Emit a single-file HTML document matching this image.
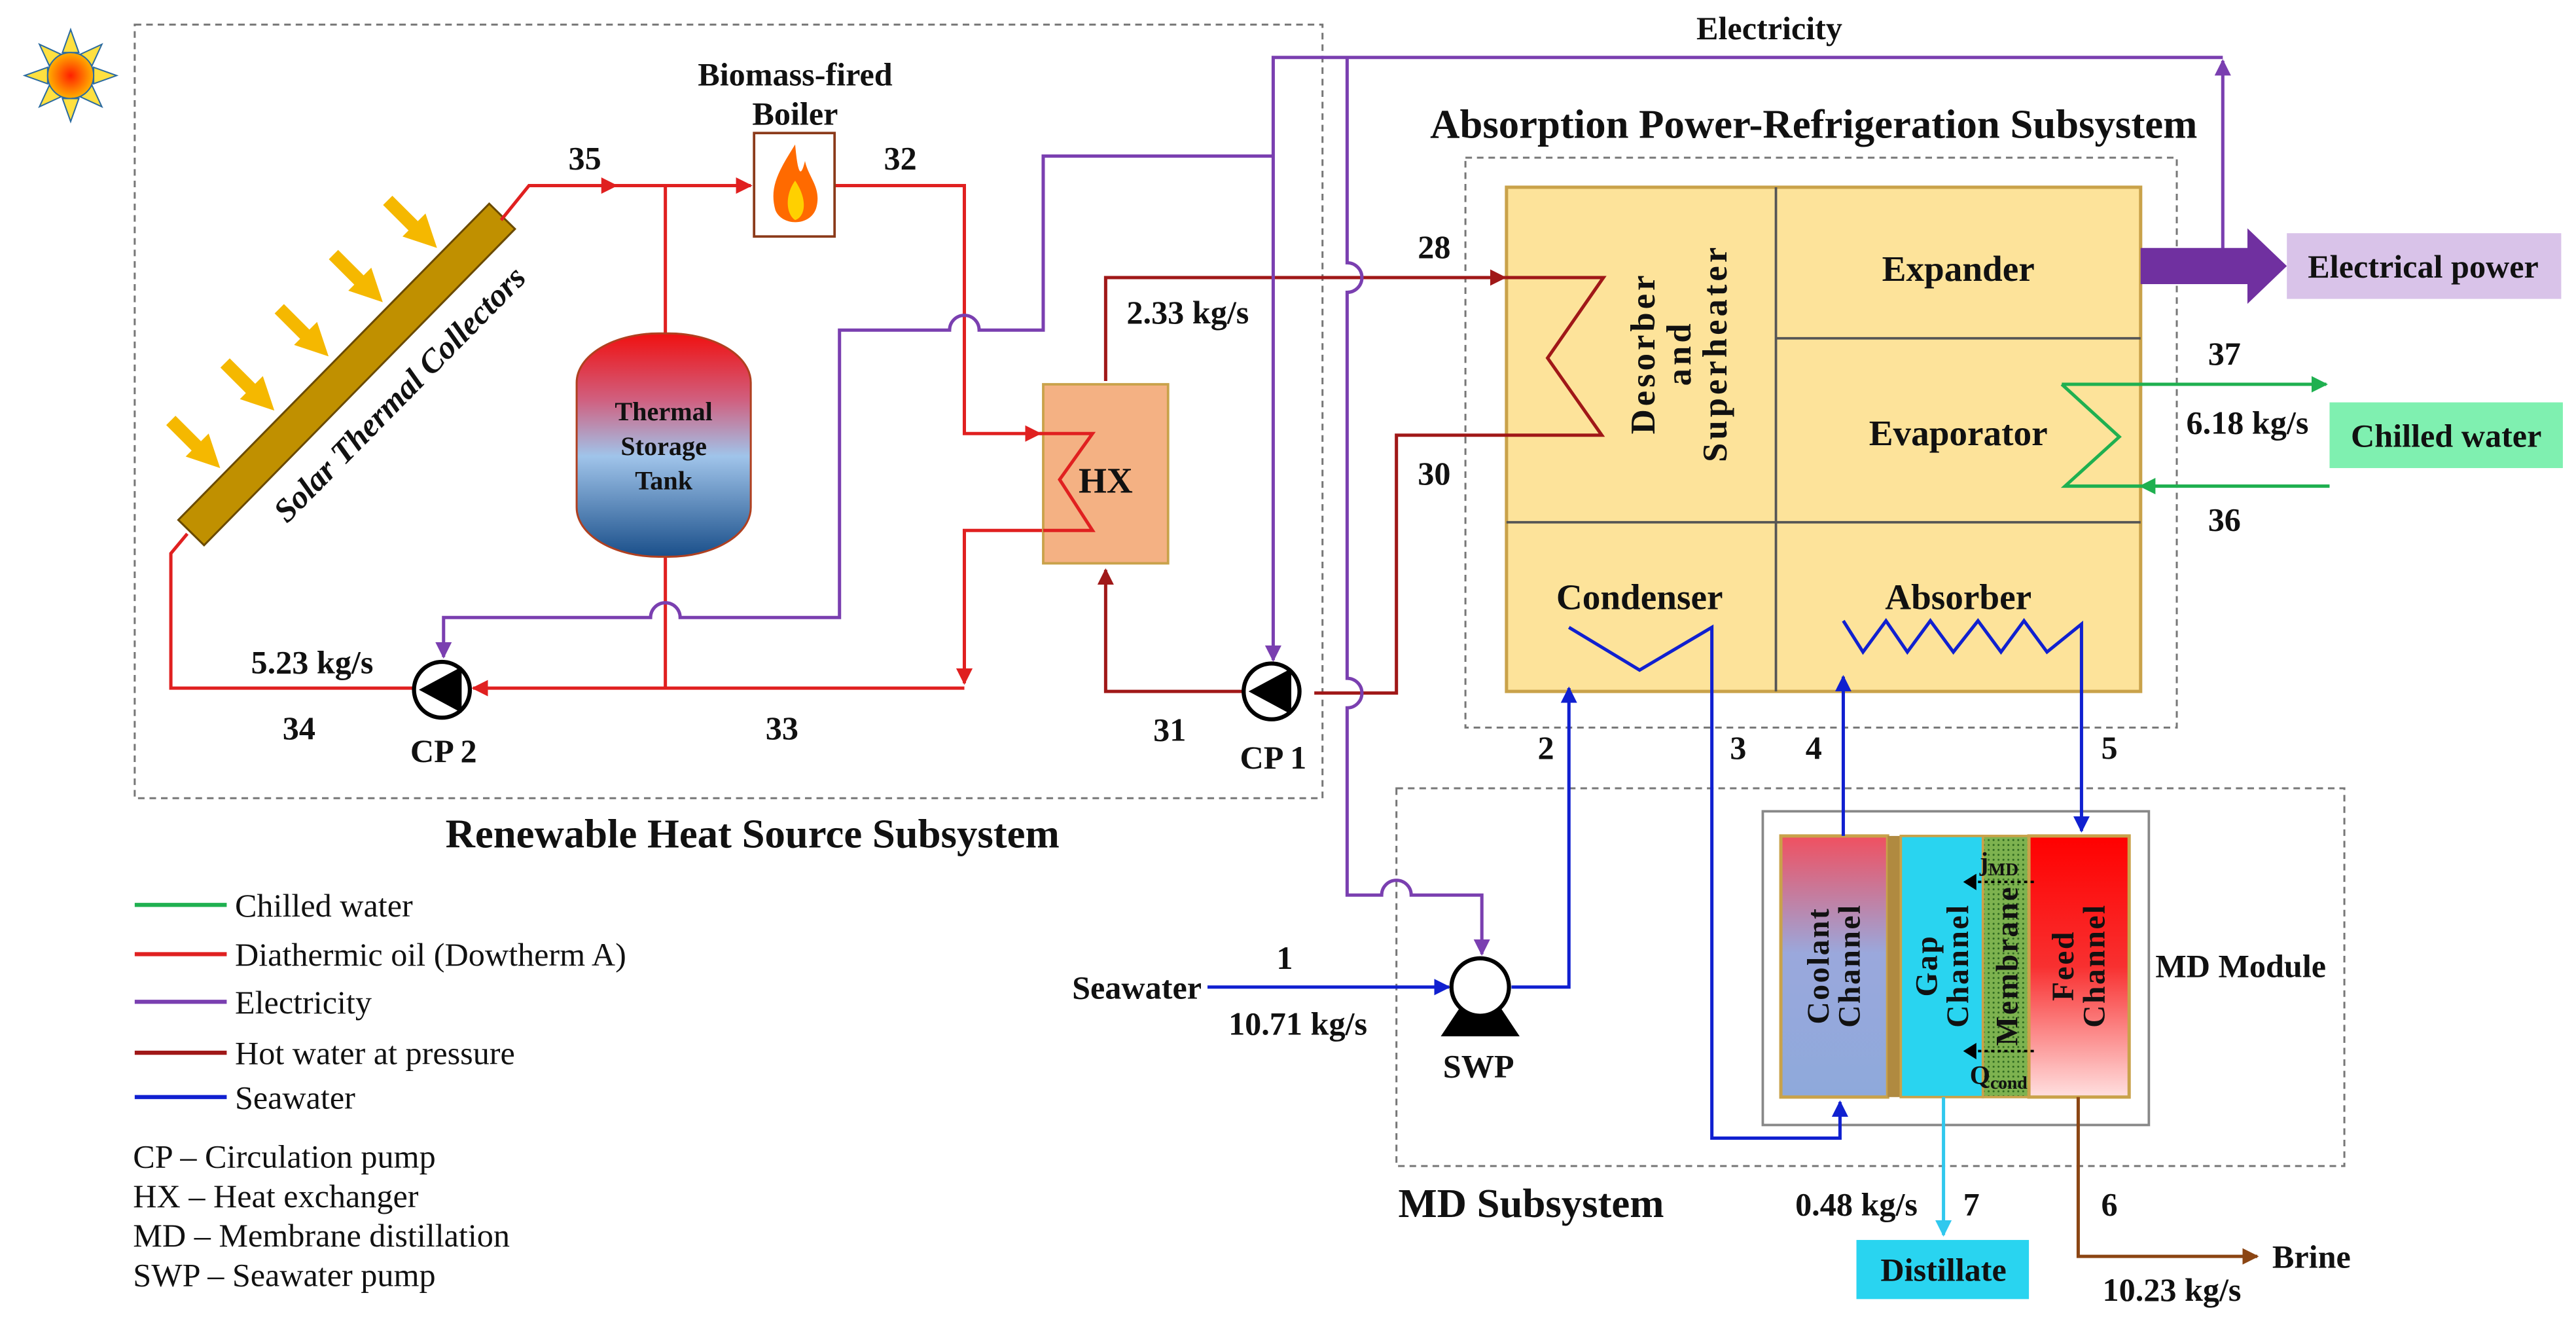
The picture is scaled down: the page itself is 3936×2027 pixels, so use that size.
<!DOCTYPE html>
<html><head><meta charset="utf-8"><style>
html,body{margin:0;padding:0;background:#fff;}
svg{display:block;}
text{font-family:"Liberation Serif",serif;font-weight:bold;fill:#111;}
text.n{font-weight:normal;}
</style></head><body>
<svg width="3936" height="2027" viewBox="0 0 1568 808" preserveAspectRatio="none" xmlns="http://www.w3.org/2000/svg">
<defs>
<marker id="ar" viewBox="0 0 10 10" refX="9" refY="5" markerWidth="5" markerHeight="5" orient="auto"><path d="M0,0L10,5L0,10z" fill="#e02020"/></marker>
<marker id="ap" viewBox="0 0 10 10" refX="9" refY="5" markerWidth="5" markerHeight="5" orient="auto"><path d="M0,0L10,5L0,10z" fill="#7a3fb0"/></marker>
<marker id="ad" viewBox="0 0 10 10" refX="9" refY="5" markerWidth="5" markerHeight="5" orient="auto"><path d="M0,0L10,5L0,10z" fill="#a01818"/></marker>
<marker id="ab" viewBox="0 0 10 10" refX="9" refY="5" markerWidth="5" markerHeight="5" orient="auto"><path d="M0,0L10,5L0,10z" fill="#1020d0"/></marker>
<marker id="ag" viewBox="0 0 10 10" refX="9" refY="5" markerWidth="5" markerHeight="5" orient="auto"><path d="M0,0L10,5L0,10z" fill="#1fb050"/></marker>
<marker id="ac" viewBox="0 0 10 10" refX="9" refY="5" markerWidth="5" markerHeight="5" orient="auto"><path d="M0,0L10,5L0,10z" fill="#30c8ee"/></marker>
<marker id="an" viewBox="0 0 10 10" refX="9" refY="5" markerWidth="5" markerHeight="5" orient="auto"><path d="M0,0L10,5L0,10z" fill="#8b4513"/></marker>
<linearGradient id="tank" x1="0" y1="0" x2="0" y2="1"><stop offset="0" stop-color="#f01010"/><stop offset="0.3" stop-color="#d06080"/><stop offset="0.55" stop-color="#a0c4ea"/><stop offset="1" stop-color="#1a4f8a"/></linearGradient>
<linearGradient id="cool" x1="0" y1="0" x2="0" y2="1"><stop offset="0" stop-color="#f05060"/><stop offset="0.45" stop-color="#9aa8dc"/><stop offset="1" stop-color="#8ea9db"/></linearGradient>
<linearGradient id="feed" x1="0" y1="0" x2="0" y2="1"><stop offset="0" stop-color="#ff0000"/><stop offset="0.5" stop-color="#f83030"/><stop offset="1" stop-color="#ffe0e0"/></linearGradient>
<radialGradient id="sun"><stop offset="0" stop-color="#ff2000"/><stop offset="1" stop-color="#ffb000"/></radialGradient>
<pattern id="mem" width="3" height="3" patternUnits="userSpaceOnUse"><rect width="3" height="3" fill="#7db24f"/><circle cx="1.5" cy="1.5" r="0.6" fill="#2f6a20"/></pattern>
</defs>

<rect x="82" y="15" width="723" height="471" fill="none" stroke="#777" stroke-width="1.2" stroke-dasharray="4,3"/>
<rect x="892" y="96" width="433" height="347" fill="none" stroke="#777" stroke-width="1.2" stroke-dasharray="4,3"/>
<rect x="850" y="480" width="577" height="230" fill="none" stroke="#777" stroke-width="1.2" stroke-dasharray="4,3"/>

<g transform="translate(43,46)">
<g fill="#ffe040" stroke="#2a6aa0" stroke-width="0.8">
<path d="M-5,-14L0,-28L5,-14z"/><path d="M-5,14L0,28L5,14z"/><path d="M-14,-5L-28,0L-14,5z"/><path d="M14,-5L28,0L14,5z"/>
<path d="M6,-13L19,-19L13,-6z"/><path d="M-6,-13L-19,-19L-13,-6z"/><path d="M6,13L19,19L13,6z"/><path d="M-6,13L-19,19L-13,6z"/>
</g>
<circle r="14" fill="url(#sun)" stroke="#2a6aa0" stroke-width="0.8"/>
</g>

<g transform="translate(211,228) rotate(-45.5)">
<rect x="-135" y="-11" width="270" height="22" fill="#c09000" stroke="#6a4a00" stroke-width="1.2"/>
<text x="14" y="38" font-size="20" font-style="italic" text-anchor="middle">Solar Thermal Collectors</text>
</g>
<g stroke="#f5b800" stroke-width="8">
<line x1="104" y1="256" x2="122" y2="274"/><line x1="137" y1="221" x2="155" y2="239"/><line x1="170" y1="188" x2="188" y2="206"/><line x1="203" y1="155" x2="221" y2="173"/><line x1="236" y1="122" x2="254" y2="140"/>
</g>
<g fill="#f5b800">
<path d="M113,278L127,264L134,285z"/><path d="M146,243L160,229L167,250z"/><path d="M179,210L193,196L200,217z"/><path d="M212,177L226,163L233,184z"/><path d="M245,144L259,130L266,151z"/>
</g>

<g stroke="#e02020" stroke-width="2" fill="none">
<path d="M305,134L322,113H375" marker-end="url(#ar)"/>
<path d="M372,113H457" marker-end="url(#ar)"/>
<path d="M405,113V204"/>
<path d="M508,113H587V264H633" marker-end="url(#ar)"/>
<path d="M633,264H665L645,292L665,323H587V416" marker-end="url(#ar)"/>
<path d="M587,419H288" marker-end="url(#ar)"/>
<path d="M405,339V419"/>
<path d="M252,419H104V337L114,325"/>
</g>
<rect x="351" y="203" width="106" height="136" rx="50" ry="30" fill="url(#tank)" stroke="#b04020" stroke-width="1.2"/>
<text x="404" y="256" font-size="16" text-anchor="middle">Thermal</text>
<text x="404" y="277" font-size="16" text-anchor="middle">Storage</text>
<text x="404" y="298" font-size="16" text-anchor="middle">Tank</text>
<rect x="459" y="81" width="49" height="63" fill="#fff" stroke="#8b3a1a" stroke-width="1.5"/>
<path d="M484,88C474,104 468,114 472,128C476,138 494,138 497,126C500,114 492,108 490,98C488,106 486,110 484,88z" fill="#ff6a00"/>
<path d="M484,110C478,118 478,130 484,134C490,132 492,122 484,110z" fill="#ffd000"/>
<rect x="635" y="234" width="76" height="109" fill="#f4b183" stroke="#c9a24a" stroke-width="1.5"/>
<path d="M633,264H665L645,292L665,323H635" stroke="#e02020" stroke-width="2" fill="none"/>
<text x="673" y="300" font-size="22" text-anchor="middle">HX</text>

<rect x="917" y="114" width="386" height="307" fill="#fde39a" stroke="#c9a24a" stroke-width="2"/>
<g stroke="#555" stroke-width="1.5"><line x1="1081" y1="114" x2="1081" y2="421"/><line x1="1081" y1="206" x2="1303" y2="206"/><line x1="917" y1="318" x2="1303" y2="318"/></g>
<text x="1192" y="171" font-size="22" text-anchor="middle">Expander</text>
<text x="1192" y="271" font-size="22" text-anchor="middle">Evaporator</text>
<text x="998" y="371" font-size="22" text-anchor="middle">Condenser</text>
<text x="1192" y="371" font-size="22" text-anchor="middle">Absorber</text>
<g transform="translate(1022,215) rotate(-90)" font-size="21" letter-spacing="2"><text x="0" y="-15" text-anchor="middle">Desorber</text><text x="0" y="7" text-anchor="middle">and</text><text x="0" y="29" text-anchor="middle">Superheater</text></g>

<g stroke="#a01818" stroke-width="2" fill="none">
<path d="M673,232V169H916" marker-end="url(#ad)"/>
<path d="M916,169H976L942,218L975,265H850V422H800"/>
<path d="M757,421H673V347" marker-end="url(#ad)"/>
</g>

<g stroke="#7a3fb0" stroke-width="2" fill="none">
<path d="M1353,162V37" marker-end="url(#ap)"/>
<path d="M1353,35H775V402" marker-end="url(#ap)"/>
<path d="M775,95H635V201H596a9,9 0 0 0 -18,0H511V376H414a9,9 0 0 0 -18,0H270V400" marker-end="url(#ap)"/>
<path d="M820,35V160a9,9 0 0 1 0,18V413a9,9 0 0 1 0,18V545H841a9,9 0 0 1 18,0H902V581" marker-end="url(#ap)"/>
</g>
<path d="M1303,151H1368V139L1392,162L1368,185V173H1303z" fill="#7030a0"/>
<rect x="1392" y="142" width="167" height="40" fill="#d9c3e9"/>
<text x="1475" y="169" font-size="20" text-anchor="middle">Electrical power</text>

<circle cx="269" cy="420" r="17" fill="#fff" stroke="#000" stroke-width="2.5"/><path d="M255,420L281,406V434z" fill="#000"/>
<circle cx="774" cy="421" r="17" fill="#fff" stroke="#000" stroke-width="2.5"/><path d="M760,421L786,407V435z" fill="#000"/>

<g stroke="#1fb050" stroke-width="2" fill="none">
<path d="M1255,234H1416" marker-end="url(#ag)"/>
<path d="M1255,234L1290,266L1257,296H1305"/>
<path d="M1418,296H1303" marker-end="url(#ag)"/>
</g>
<rect x="1418" y="245" width="142" height="40" fill="#7ff0b0"/>
<text x="1489" y="272" font-size="20" text-anchor="middle">Chilled water</text>

<rect x="1073" y="494" width="235" height="191" fill="none" stroke="#888" stroke-width="1.5"/>
<rect x="1084" y="509" width="65" height="159" fill="url(#cool)" stroke="#c9a24a" stroke-width="2"/>
<rect x="1149" y="509" width="8" height="159" fill="#b08a40"/>
<rect x="1157" y="509" width="50" height="159" fill="#29d4f0" stroke="#c9a24a" stroke-width="1.5"/>
<rect x="1207" y="509" width="28" height="159" fill="url(#mem)" stroke="#c9a24a" stroke-width="1.5"/>
<rect x="1235" y="509" width="61" height="159" fill="url(#feed)" stroke="#c9a24a" stroke-width="2"/>
<g font-size="19" letter-spacing="1">
<g transform="translate(1116,588) rotate(-90)"><text y="-3" text-anchor="middle">Coolant</text><text y="16" text-anchor="middle">Channel</text></g>
<g transform="translate(1182,588) rotate(-90)"><text y="-3" text-anchor="middle">Gap</text><text y="16" text-anchor="middle">Channel</text></g>
<g transform="translate(1227,588) rotate(-90)"><text y="1" text-anchor="middle">Membrane</text></g>
<g transform="translate(1265,588) rotate(-90)"><text y="-3" text-anchor="middle">Feed</text><text y="16" text-anchor="middle">Channel</text></g>
</g>
<g stroke="#000" stroke-width="1.5" stroke-dasharray="2,2"><line x1="1200" y1="537" x2="1240" y2="537"/><line x1="1200" y1="640" x2="1240" y2="640"/></g>
<path d="M1195,537L1203,532V542z M1195,640L1203,635V645z" fill="#000"/>
<text x="1205" y="530" font-size="16">j<tspan font-size="11" dy="3">MD</tspan></text>
<text x="1199" y="660" font-size="16">Q<tspan font-size="11" dy="3">cond</tspan></text>
<text x="1312" y="595" font-size="20">MD Module</text>

<g stroke="#1020d0" stroke-width="2" fill="none">
<path d="M735,601H882" marker-end="url(#ab)"/>
<path d="M920,601H955V419" marker-end="url(#ab)"/>
<path d="M955,382L998,408L1042,382V693H1120V671" marker-end="url(#ab)"/>
<path d="M1122,509V412" marker-end="url(#ab)"/>
<path d="M1122,378L1134,397L1148,378L1161,397L1175,378L1189,397L1204,378L1218,397L1232,378L1246,397L1267,380V506" marker-end="url(#ab)"/>
</g>
<g transform="translate(901,601)"><path d="M-12,12L-24,30H24L12,12z" fill="#000"/><circle r="17.5" fill="#fff" stroke="#000" stroke-width="2.5"/></g>

<path d="M1183,668V752" stroke="#30c8ee" stroke-width="2" fill="none" marker-end="url(#ac)"/>
<rect x="1130" y="755" width="105" height="36" fill="#29d4f0"/>
<text x="1183" y="780" font-size="20" text-anchor="middle">Distillate</text>
<path d="M1265,668V765H1374" stroke="#8b4513" stroke-width="2" fill="none" marker-end="url(#an)"/>

<g font-size="20">
<text x="1077" y="24" text-anchor="middle">Electricity</text>
<text x="484" y="52" text-anchor="middle">Biomass-fired</text>
<text x="484" y="76" text-anchor="middle">Boiler</text>
<text x="356" y="103" text-anchor="middle">35</text>
<text x="548" y="103" text-anchor="middle">32</text>
<text x="873" y="157" text-anchor="middle">28</text>
<text x="873" y="295" text-anchor="middle">30</text>
<text x="723" y="197" text-anchor="middle">2.33 kg/s</text>
<text x="190" y="410" text-anchor="middle">5.23 kg/s</text>
<text x="182" y="450" text-anchor="middle">34</text>
<text x="476" y="450" text-anchor="middle">33</text>
<text x="712" y="451" text-anchor="middle">31</text>
<text x="270" y="464" text-anchor="middle">CP 2</text>
<text x="775" y="468" text-anchor="middle">CP 1</text>
<text x="1354" y="222" text-anchor="middle">37</text>
<text x="1368" y="264" text-anchor="middle">6.18 kg/s</text>
<text x="1354" y="323" text-anchor="middle">36</text>
<text x="941" y="462" text-anchor="middle">2</text>
<text x="1058" y="462" text-anchor="middle">3</text>
<text x="1104" y="462" text-anchor="middle">4</text>
<text x="1284" y="462" text-anchor="middle">5</text>
<text x="782" y="590" text-anchor="middle">1</text>
<text x="692" y="608" text-anchor="middle">Seawater</text>
<text x="790" y="630" text-anchor="middle">10.71 kg/s</text>
<text x="900" y="656" text-anchor="middle">SWP</text>
<text x="1130" y="740" text-anchor="middle">0.48 kg/s</text>
<text x="1200" y="740" text-anchor="middle">7</text>
<text x="1284" y="740" text-anchor="middle">6</text>
<text x="1407" y="772" text-anchor="middle">Brine</text>
<text x="1322" y="792" text-anchor="middle">10.23 kg/s</text>
</g>
<text x="458" y="516" font-size="25" text-anchor="middle">Renewable Heat Source Subsystem</text>
<text x="1104" y="84" font-size="25" text-anchor="middle">Absorption Power-Refrigeration Subsystem</text>
<text x="932" y="741" font-size="25" text-anchor="middle">MD Subsystem</text>

<g stroke-width="2.5">
<line x1="82" y1="551" x2="138" y2="551" stroke="#1fb050"/>
<line x1="82" y1="581" x2="138" y2="581" stroke="#e02020"/>
<line x1="82" y1="610" x2="138" y2="610" stroke="#7a3fb0"/>
<line x1="82" y1="641" x2="138" y2="641" stroke="#a01818"/>
<line x1="82" y1="668" x2="138" y2="668" stroke="#1020d0"/>
</g>
<g font-size="20">
<text class="n" x="143" y="558">Chilled water</text>
<text class="n" x="143" y="588">Diathermic oil (Dowtherm A)</text>
<text class="n" x="143" y="617">Electricity</text>
<text class="n" x="143" y="648">Hot water at pressure</text>
<text class="n" x="143" y="675">Seawater</text>
<text class="n" x="81" y="711">CP – Circulation pump</text>
<text class="n" x="81" y="735">HX – Heat exchanger</text>
<text class="n" x="81" y="759">MD – Membrane distillation</text>
<text class="n" x="81" y="783">SWP – Seawater pump</text>
</g>
</svg>
</body></html>
